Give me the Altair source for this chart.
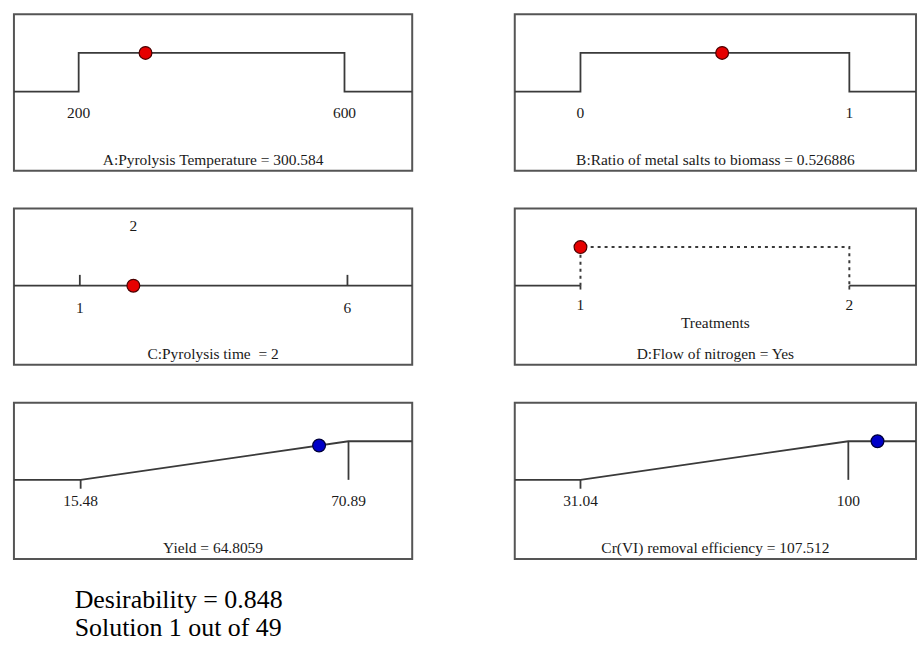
import altair as alt
import pandas as pd

# ---------------- data ----------------
temp_limits = [200, 600]
temp_value = 300.584
temp_title = "A:Pyrolysis Temperature = 300.584"

ratio_limits = [0, 1]
ratio_value = 0.526886
ratio_title = "B:Ratio of metal salts to biomass = 0.526886"

time_limits = [1, 6]
time_value = 2
time_title = "C:Pyrolysis time\u00a0 = 2"

nitrogen_levels = [1, 2]
nitrogen_value = 1
nitrogen_axis = "Treatments"
nitrogen_title = "D:Flow of nitrogen = Yes"

yield_limits = [15.48, 70.89]
yield_value = 64.8059
yield_title = "Yield = 64.8059"

cr_limits = [31.04, 100]
cr_value = 107.512
cr_title = "Cr(VI) removal efficiency = 107.512"

summary_lines = ["Desirability = 0.848", "Solution 1 out of 49"]

# ---------------- style ----------------
FONT = "Liberation Serif"
LINE = "#3a3a3a"
RED, RED_S = "#e60000", "#4a0000"
BLUE, BLUE_S = "#0000c8", "#00003a"
H = 157
W_L, W_R = 400, 403
Y_DOM = [-2.05, 2.0]
FS = 15.5


def xs(dom):
    return alt.X("x:Q", scale=alt.Scale(domain=dom, nice=False, zero=False), axis=None)


def ys():
    return alt.Y("y:Q", scale=alt.Scale(domain=Y_DOM, nice=False, zero=False), axis=None)


def path(dom, pts, dash=None, width=1.8):
    df = pd.DataFrame({"x": [p[0] for p in pts], "y": [p[1] for p in pts], "o": list(range(len(pts)))})
    kw = dict(color=LINE, strokeWidth=width, clip=True)
    if dash:
        kw["strokeDash"] = dash
    return alt.Chart(df).mark_line(**kw).encode(x=xs(dom), y=ys(), order="o:Q")


def point(dom, x, y, fill, stroke):
    df = pd.DataFrame({"x": [x], "y": [y]})
    return alt.Chart(df).mark_point(filled=True, size=165, fill=fill, stroke=stroke,
                                    strokeWidth=1.2, opacity=1, clip=True).encode(x=xs(dom), y=ys())


def labels(dom, vals, texts, ypx):
    df = pd.DataFrame({"x": vals, "t": texts})
    return alt.Chart(df).mark_text(font=FONT, fontSize=FS, color="#1a1a1a",
                                   baseline="alphabetic").encode(x=xs(dom), y=alt.value(ypx), text="t:N")


def caption(text, w, ypx):
    df = pd.DataFrame({"t": [text]})
    return alt.Chart(df).mark_text(font=FONT, fontSize=FS, color="#1a1a1a",
                                   baseline="alphabetic").encode(
        x=alt.value(w / 2), y=alt.value(ypx), text="t:N")


def tick(dom, x, y0, y1):
    df = pd.DataFrame({"x": [x], "y": [y0], "y2": [y1]})
    return alt.Chart(df).mark_rule(color=LINE, strokeWidth=1.8).encode(x=xs(dom), y=ys(), y2="y2:Q")


def range_panel(lims, value, title, dom, w):
    lo, hi = lims
    line = path(dom, [(dom[0], 0), (lo, 0), (lo, 1), (hi, 1), (hi, 0), (dom[1], 0)])
    return alt.layer(
        line,
        point(dom, value, 1, RED, RED_S),
        labels(dom, lims, [str(v) for v in lims], 104),
        caption(title, w, 151),
    ).properties(width=w, height=H)


# Panel A
dom_a = [102.6, 701.9]
panel_a = range_panel(temp_limits, temp_value, temp_title, dom_a, W_L)

# Panel B
dom_b = [-0.2444, 1.248]
panel_b = range_panel(ratio_limits, ratio_value, ratio_title, dom_b, W_R)

# Panel C
dom_c = [-0.231, 7.21]
panel_c = alt.layer(
    path(dom_c, [(dom_c[0], 0), (dom_c[1], 0)]),
    tick(dom_c, time_limits[0], 0, 0.28),
    tick(dom_c, time_limits[1], 0, 0.28),
    point(dom_c, time_value, 0, RED, RED_S),
    labels(dom_c, time_limits, [str(v) for v in time_limits], 105),
    labels(dom_c, [time_value], [str(time_value)], 23),
    caption(time_title, W_L, 151),
).properties(width=W_L, height=H)

# Panel D
dom_d = [0.7556, 2.248]
n1, n2 = nitrogen_levels
panel_d = alt.layer(
    path(dom_d, [(dom_d[0], 0), (n1, 0)]),
    path(dom_d, [(n2, 0), (dom_d[1], 0)]),
    path(dom_d, [(n1, 0), (n1, 1), (n2, 1), (n2, 0)], dash=[3, 4], width=2),
    tick(dom_d, n1, 0, -0.1),
    tick(dom_d, n2, 0, -0.1),
    point(dom_d, nitrogen_value, 1, RED, RED_S),
    labels(dom_d, nitrogen_levels, [str(v) for v in nitrogen_levels], 102),
    caption(nitrogen_axis, W_R, 120),
    caption(nitrogen_title, W_R, 151),
).properties(width=W_R, height=H)


def response_panel(lims, value, title, dom, w):
    lo, hi = lims
    d = min(1.0, max(0.0, (value - lo) / (hi - lo)))
    return alt.layer(
        path(dom, [(dom[0], 0), (lo, 0), (hi, 1), (dom[1], 1)]),
        tick(dom, lo, 0, -0.23),
        tick(dom, hi, 0, 1),
        point(dom, value, d, BLUE, BLUE_S),
        labels(dom, lims, [f"{v:g}" for v in lims], 104),
        caption(title, w, 151),
    ).properties(width=w, height=H)


# Panel E
dom_e = [1.68, 84.07]
panel_e = response_panel(yield_limits, yield_value, yield_title, dom_e, W_L)

# Panel F
dom_f = [14.12, 117.43]
panel_f = response_panel(cr_limits, cr_value, cr_title, dom_f, W_R)

row1 = alt.hconcat(panel_a, panel_b, spacing=101)
row2 = alt.hconcat(panel_c, panel_d, spacing=101)
row3 = alt.hconcat(panel_e, panel_f, spacing=101)

chart = alt.vconcat(row1, row2, row3, spacing=36).properties(
    title=alt.TitleParams(summary_lines, orient="bottom", anchor="start", dx=62, offset=27,
                          font=FONT, fontSize=26, fontWeight="normal", color="black",
                          lineHeight=28),
    padding={"left": 13, "top": 12, "right": 4, "bottom": 0},
).configure(background="white").configure_view(stroke="#555555", strokeWidth=2)

chart.save("out.html", embed_options={"renderer": "svg", "actions": False})
